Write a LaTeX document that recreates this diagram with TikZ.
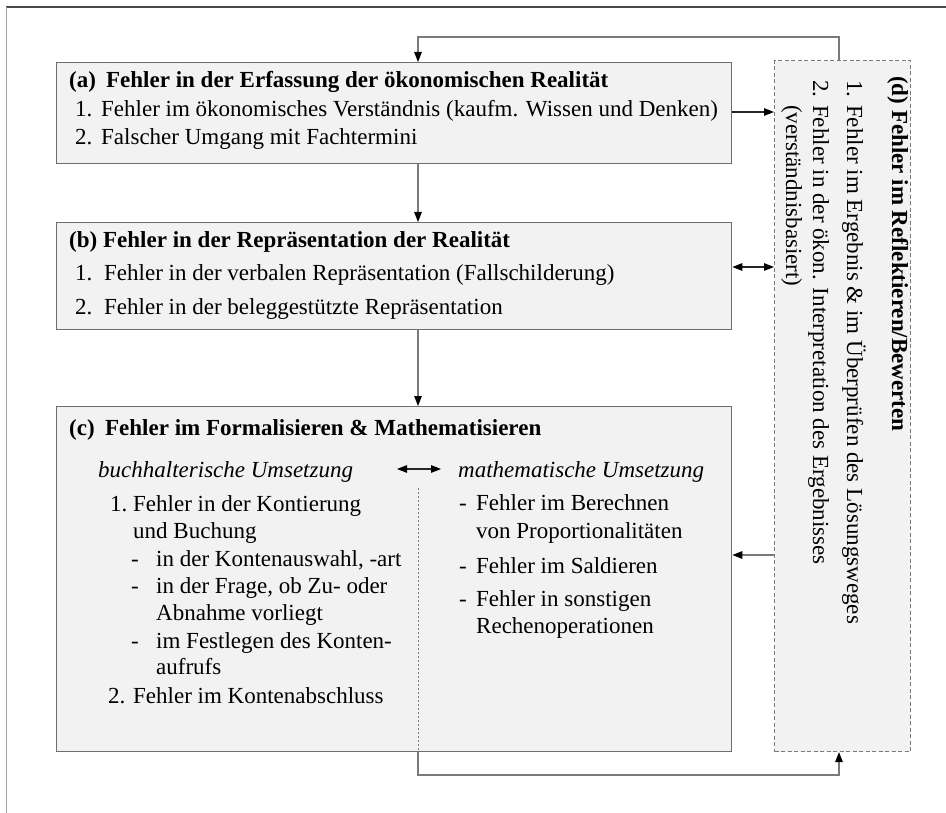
\documentclass[tikz,border=0pt]{standalone}
\usepackage{fontspec}
\setmainfont{Liberation Serif}
\usepackage{xcolor}
\usepackage{tikz}
\usetikzlibrary{positioning, arrows.meta}

\definecolor{boxfill}{HTML}{F2F2F2}
\definecolor{boxline}{HTML}{6E6E6E}
\definecolor{linegray}{HTML}{7A7A7A}
\definecolor{framegray}{HTML}{4A4A4A}
\newcommand{\boxfont}{\fontsize{23}{28}\selectfont}

\begin{document}
\begin{tikzpicture}[
  x=1pt, y=-1pt,
  every node/.style={inner sep=0pt, font=\boxfont},
  errbox/.style={draw=boxline, fill=boxfill, line width=1.3pt, anchor=north west},
  reflbox/.style={errbox, draw=linegray, line width=1.1pt, dash pattern=on 4pt off 2.5pt},
  head/.style={anchor=base west, font=\boxfont\bfseries},
  entry/.style={anchor=base west},
  sub/.style={anchor=base west, font=\boxfont\itshape},
  turned/.style={anchor=base west, rotate=-90},
  flow/.style={-{Triangle[length=10pt, width=7.5pt, color=black]}, draw=linegray, line width=1.3pt},
  swap/.style={{Triangle[length=10pt, width=7.5pt, color=black]}-{Triangle[length=10pt, width=7.5pt, color=black]}, draw=black!85, line width=1.3pt},
  divider/.style={draw=linegray, line width=1pt, dash pattern=on 2pt off 2pt}
]
\useasboundingbox (0,0) rectangle (946,813);
\draw[framegray, line width=1.6pt] (6,7) -- (946,7);
\draw[linegray!70, line width=0.8pt] (6,7) -- (6,813);

\node[errbox, minimum width=675pt, minimum height=101pt] (errA) at (56,62) {};
\node[head]  (aTitle) at (69,88)  {\makebox[37pt][l]{(a)}Fehler in der Erfassung der ökonomischen Realität};
\node[entry] (aOne)   at (75,117) {\makebox[26pt][l]{1.}Fehler im ökonomisches Verständnis (kaufm. Wissen und Denken)};
\node[entry] (aTwo)   at (75,145) {\makebox[26pt][l]{2.}Falscher Umgang mit Fachtermini};

\node[errbox, minimum width=675pt, minimum height=107pt] (errB) at (56,222) {};
\node[head]  (bTitle) at (69,248) {\makebox[34pt][l]{(b)}Fehler in der Repräsentation der Realität};
\node[entry] (bOne)   at (75,281) {\makebox[29pt][l]{1.}Fehler in der verbalen Repräsentation (Fallschilderung)};
\node[entry] (bTwo)   at (75,315) {\makebox[29pt][l]{2.}Fehler in der beleggestützte Repräsentation};

\node[errbox, minimum width=675pt, minimum height=345pt] (errC) at (56,406) {};
\node[head]  (cTitle) at (69,435) {\makebox[36pt][l]{(c)}Fehler im Formalisieren \& Mathematisieren};
\node[sub]   (cBook)  at (98,477)  {buchhalterische Umsetzung};
\node[sub]   (cMath)  at (458,477) {mathematische Umsetzung};
\node[entry] (cbOne)  at (110,511) {\makebox[23pt][l]{1.}Fehler in der Kontierung};
\node[entry] (cbOneB) at (133,538) {und Buchung};
\node[entry] (cbDa)   at (131,566) {\makebox[25pt][l]{-}in der Kontenauswahl, -art};
\node[entry] (cbDb)   at (131,593) {\makebox[25pt][l]{-}in der Frage, ob Zu- oder};
\node[entry] (cbDbB)  at (156,620) {Abnahme vorliegt};
\node[entry] (cbDc)   at (131,648) {\makebox[25pt][l]{-}im Festlegen des Konten-};
\node[entry] (cbDcB)  at (156,674) {aufrufs};
\node[entry] (cbTwo)  at (108,703) {\makebox[25pt][l]{2.}Fehler im Kontenabschluss};
\node[entry] (cmA)    at (459,510) {\makebox[17pt][l]{-}Fehler im Berechnen};
\node[entry] (cmAB)   at (476,538) {von Proportionalitäten};
\node[entry] (cmB)    at (459,573) {\makebox[17pt][l]{-}Fehler im Saldieren};
\node[entry] (cmC)    at (459,606) {\makebox[17pt][l]{-}Fehler in sonstigen};
\node[entry] (cmCB)   at (476,633) {Rechenoperationen};

\node[reflbox, minimum width=136pt, minimum height=691pt] (errD) at (774,60) {};
\node[turned, font=\boxfont\bfseries] (dTitle) at (892,76) {(d) Fehler im Reflektieren/Bewerten};
\node[turned] (dOne)   at (847,80)  {\makebox[25pt][l]{1.}Fehler im Ergebnis \& im Überprüfen des Lösungsweges};
\node[turned] (dTwo)   at (813,80)  {\makebox[25pt][l]{2.}Fehler in der ökon. Interpretation des Ergebnisses};
\node[turned] (dTwoB)  at (786,105) {(verständnisbasiert)};

\coordinate (axis)    at (418,0);
\coordinate (rowA)    at (0,112);
\coordinate (rowB)    at (0,267);
\coordinate (rowC)    at (0,555);
\coordinate (topbend) at (839,37);
\coordinate (botbend) at (839,775);
\coordinate (divtop)  at (418,488);
\coordinate (swapL)   at (397,469);
\coordinate (swapR)   at (441,469);

\draw[flow] (errA.south -| axis) -- (errB.north -| axis);
\draw[flow] (errB.south -| axis) -- (errC.north -| axis);
\draw[flow, draw=black!85] (errA.east |- rowA) -- (errD.west |- rowA);
\draw[swap] (errB.east |- rowB) -- (errD.west |- rowB);
\draw[flow] (errD.west |- rowC) -- (errC.east |- rowC);
\draw[flow] (errD.north -| topbend) -- (topbend) -| (errA.north -| axis);
\draw[divider] (divtop) -- (errC.south -| axis);
\draw[flow] (errC.south -| axis) |- (botbend) -- (errD.south -| botbend);
\draw[swap] (swapL) -- (swapR);
\end{tikzpicture}
\end{document}
